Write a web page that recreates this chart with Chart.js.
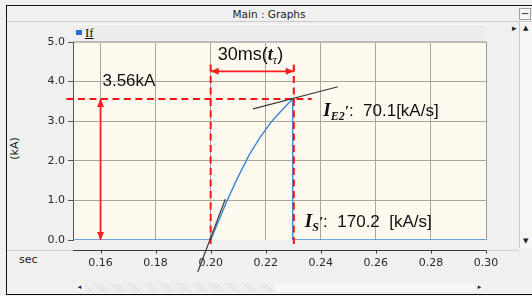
<!DOCTYPE html>
<html>
<head>
<meta charset="utf-8">
<script src="https://cdn.jsdelivr.net/npm/chart.js@4.4.0/dist/chart.umd.min.js"></script>
<style>
body{margin:0;background:#f0f0f0;width:532px;height:296px;overflow:hidden;position:relative;font-family:"DejaVu Sans",sans-serif;}
.abs{position:absolute;}
#frame{left:6px;top:5px;width:526px;height:290px;border-left:1px solid #111;border-top:1px solid #111;border-bottom:1px solid #111;box-sizing:border-box;}
#title{left:6px;top:8px;width:526px;text-align:center;font-size:10.5px;color:#222;}
#titleLine{left:7px;top:21px;width:525px;height:1px;background:#cbcbcb;}
#minBtn{left:519px;top:8px;width:12px;height:12px;border:1px solid #a0a0a0;background:#f7f7f7;box-sizing:border-box;font-size:10px;line-height:9px;text-align:center;color:#222;}
#legend{left:73px;top:24px;width:413px;height:18px;background:#ededed;border-top:1px solid #fbfbfb;border-bottom:1px solid #bdbdbd;box-sizing:border-box;}
#legSwatch{left:76px;top:30px;width:6px;height:5px;background:#1f6fd8;}
#legText{left:85px;top:25px;font-family:"Liberation Serif",serif;font-size:13px;text-decoration:underline;color:#111;}
#vscroll{left:519px;top:22px;width:13px;height:226px;border-left:1px solid #c8c8c8;background:#f6f6f6;box-sizing:border-box;}
#vUp{left:523px;top:24px;font-size:7px;color:#222;}
#vDown{left:523px;top:237px;font-size:7px;color:#222;}
#rArrow{left:512px;top:23px;font-size:9px;color:#222;}
#sepLine{left:7px;top:250px;width:512px;height:1px;background:#d2d2d2;}
#hscroll{left:74px;top:283px;width:411px;height:9px;background:#f7f7f7;}
#hThumb{left:85px;top:283px;width:190px;height:9px;background:repeating-linear-gradient(45deg,#e4e4e4 0 1px,#f4f4f4 1px 2px);}
#hLeft{left:74px;top:283px;width:11px;height:9px;background:#f2f2f2;font-size:7px;line-height:9px;text-align:center;color:#222;}
#hRight{left:474px;top:283px;width:11px;height:9px;background:#f2f2f2;font-size:7px;line-height:9px;text-align:center;color:#222;}
#secLabel{left:19px;top:253px;font-size:11px;color:#222;}
#kaLabel{left:3px;top:142px;font-size:11px;color:#222;transform:rotate(-90deg);transform-origin:center;}
#graph{left:0;top:0;}
</style>
</head>
<body>
<div id="frame" class="abs"></div>
<div id="title" class="abs">Main : Graphs</div>
<div id="titleLine" class="abs"></div>
<div id="minBtn" class="abs">−</div>
<div id="legend" class="abs"></div>
<div id="legSwatch" class="abs"></div>
<div id="legText" class="abs">If</div>
<div id="vscroll" class="abs"></div>
<div id="vUp" class="abs">▲</div>
<div id="vDown" class="abs">▼</div>
<div id="rArrow" class="abs">▸</div>
<div id="sepLine" class="abs"></div>
<div id="hscroll" class="abs"></div>
<div id="hThumb" class="abs"></div>
<div id="hLeft" class="abs">◂</div>
<div id="hRight" class="abs">▸</div>
<div id="secLabel" class="abs">sec</div>
<div id="kaLabel" class="abs">(kA)</div>
<canvas id="graph" class="abs" width="532" height="296"></canvas>
<script>
// axis ticks
var xTicks = [0.16, 0.18, 0.20, 0.22, 0.24, 0.26, 0.28, 0.30];
var yTicks = [0, 1, 2, 3, 4, 5];

// If waveform (sec, kA)
var ifTime = [0.150, 0.200, 0.203, 0.206, 0.210, 0.214, 0.218, 0.222, 0.226, 0.2298, 0.2298, 0.300];
var ifKA   = [0,     0,     0.50,  1.00,  1.60,  2.15,  2.60,  2.98,  3.29,  3.56,   0,      0];

// tangent lines
var tangentE2Time = [0.2154, 0.2462];
var tangentE2KA   = [3.31, 3.87];
var tangentSTime  = [0.1953, 0.2053];
var tangentSKA    = [-0.81, 1.03];

// red guide lines
var peakKA = 3.56;
var guideHTime = [0.1476, 0.2367];
var riseStart = 0.200;
var riseEnd = 0.2302;
var guideVKA = [4.43, -0.10];

// red arrows
var spanArrowTime = [0.200, 0.2302];
var spanArrowKA = 4.26;
var heightArrowTime = 0.160;
var heightArrowKA = [0, 3.56];

function pts(xs, ys) {
  return xs.map(function (v, i) { return {x: v, y: ys[i]}; });
}

var serifBI = 'italic bold {s}px "Liberation Serif", serif';
function sf(size) { return serifBI.replace('{s}', size); }
function sans(size) { return size + 'px "Liberation Sans", Arial, sans-serif'; }

// text labels: anchor (sec, kA) at left / baseline
var labels = [
  {x: 0.1607, y: 3.89, runs: [{t: '3.56kA', f: sans(17)}]},
  {x: 0.2026, y: 4.55, runs: [{t: '30ms(', f: sans(18)}, {t: 't', f: sf(18)}, {t: 'τ', f: 'italic 12px "Liberation Serif", serif', dy: 4}, {t: ')', f: sans(18)}]},
  {x: 0.2409, y: 3.13, runs: [{t: 'I', f: sf(19)}, {t: 'E2', f: sf(12), dy: 4}, {t: '\u2032', f: sf(15)}, {t: ':  70.1[kA/s]', f: sans(17)}]},
  {x: 0.2342, y: 0.336, runs: [{t: 'I', f: sf(19)}, {t: 'S', f: sf(12), dy: 4}, {t: '\u2032', f: sf(15)}, {t: ':  170.2  [kA/s]', f: sans(17)}]}
];

var plotBg = {
  id: 'plotBg',
  beforeDraw: function (chart) {
    var a = chart.chartArea, c = chart.ctx;
    c.save();
    c.fillStyle = '#fffaef';
    c.fillRect(a.left, a.top, a.right - a.left, a.bottom - a.top);
    c.restore();
  }
};

function arrowHead(c, x, y, ang) {
  c.beginPath();
  c.moveTo(x, y);
  c.lineTo(x - 8 * Math.cos(ang) + 3.5 * Math.sin(ang), y - 8 * Math.sin(ang) - 3.5 * Math.cos(ang));
  c.lineTo(x - 8 * Math.cos(ang) - 3.5 * Math.sin(ang), y - 8 * Math.sin(ang) + 3.5 * Math.cos(ang));
  c.closePath();
  c.fill();
}

function doubleArrow(c, x1, y1, x2, y2) {
  var ang = Math.atan2(y2 - y1, x2 - x1);
  c.beginPath();
  c.moveTo(x1, y1);
  c.lineTo(x2, y2);
  c.stroke();
  arrowHead(c, x2, y2, ang);
  arrowHead(c, x1, y1, ang + Math.PI);
}

var annotations = {
  id: 'annotations',
  afterDraw: function (chart) {
    var c = chart.ctx, xs = chart.scales.x, ys = chart.scales.y, a = chart.chartArea;
    c.save();
    // x axis line below the plot
    var axY = a.bottom + 10.5;
    c.strokeStyle = '#3c3c3c';
    c.lineWidth = 1;
    c.beginPath();
    c.moveTo(a.left, axY);
    c.lineTo(a.right, axY);
    xTicks.forEach(function (v) {
      var px = Math.round(xs.getPixelForValue(v)) + 0.5;
      c.moveTo(px, axY);
      c.lineTo(px, axY + 3);
    });
    c.stroke();

    // arrows
    c.strokeStyle = '#ff1e1e';
    c.fillStyle = '#ff1e1e';
    c.lineWidth = 1.8;
    doubleArrow(c, xs.getPixelForValue(spanArrowTime[0]), ys.getPixelForValue(spanArrowKA),
      xs.getPixelForValue(spanArrowTime[1]), ys.getPixelForValue(spanArrowKA));
    doubleArrow(c, xs.getPixelForValue(heightArrowTime), ys.getPixelForValue(heightArrowKA[1]),
      xs.getPixelForValue(heightArrowTime), ys.getPixelForValue(heightArrowKA[0]));

    // labels
    c.fillStyle = '#111';
    c.textBaseline = 'alphabetic';
    c.textAlign = 'left';
    labels.forEach(function (l) {
      var px = xs.getPixelForValue(l.x), py = ys.getPixelForValue(l.y);
      l.runs.forEach(function (r) {
        c.font = r.f;
        c.fillText(r.t, px, py + (r.dy || 0));
        px += c.measureText(r.t).width;
      });
    });
    c.restore();
  }
};

var ctx = document.getElementById('graph').getContext('2d');
var chart = new Chart(ctx, {
  type: 'scatter',
  data: {
    datasets: [
      {label: 'If', data: pts(ifTime, ifKA), showLine: true, borderColor: '#4486d4', borderWidth: 1.4, pointRadius: 0, order: 2},
      {data: pts(tangentE2Time, tangentE2KA), showLine: true, borderColor: '#3a3a3a', borderWidth: 1.2, pointRadius: 0, order: 0, clip: false},
      {data: pts(tangentSTime, tangentSKA), showLine: true, borderColor: '#3a3a3a', borderWidth: 1.2, pointRadius: 0, order: 0, clip: false},
      {data: pts(guideHTime, [peakKA, peakKA]), showLine: true, borderColor: '#ff1414', borderDash: [7, 4.5], borderWidth: 2, pointRadius: 0, order: 1, clip: false},
      {data: pts([riseStart, riseStart], guideVKA), showLine: true, borderColor: '#ff1414', borderDash: [7, 4.5], borderWidth: 2, pointRadius: 0, order: 1, clip: false},
      {data: pts([riseEnd, riseEnd], guideVKA), showLine: true, borderColor: '#ff1414', borderDash: [7, 4.5], borderWidth: 2, pointRadius: 0, order: 1, clip: false}
    ]
  },
  options: {
    responsive: false,
    animation: false,
    layout: {padding: {left: 0, top: 42, right: 46, bottom: 0}},
    plugins: {legend: {display: false}, tooltip: {enabled: false}},
    scales: {
      x: {
        type: 'linear', min: 0.15, max: 0.30,
        afterBuildTicks: function (s) { s.ticks = xTicks.map(function (v) { return {value: v}; }); },
        afterFit: function (s) { s.height = 56; },
        border: {display: false},
        grid: {
          drawTicks: false,
          color: function (c) { return c.tick && c.tick.value > 0.299 ? '#9a9a9a' : '#aba595'; }
        },
        ticks: {
          padding: 17, autoSkip: false, maxRotation: 0, color: '#2a2a2a',
          font: {family: 'DejaVu Sans', size: 11},
          callback: function (v) { return v.toFixed(2); }
        }
      },
      y: {
        min: 0, max: 5,
        afterBuildTicks: function (s) { s.ticks = yTicks.map(function (v) { return {value: v}; }); },
        afterFit: function (s) { s.width = 73; },
        border: {color: '#555'},
        grid: {
          tickLength: 5, tickColor: '#555',
          color: function (c) { return c.tick && c.tick.value === 0 ? 'rgba(0,0,0,0)' : (c.tick && c.tick.value === 5 ? '#bdbdbd' : '#aba595'); }
        },
        ticks: {
          padding: 3, color: '#2a2a2a',
          font: {family: 'DejaVu Sans', size: 11},
          callback: function (v) { return v.toFixed(1); }
        }
      }
    }
  },
  plugins: [plotBg, annotations]
});
</script>
</body>
</html>
